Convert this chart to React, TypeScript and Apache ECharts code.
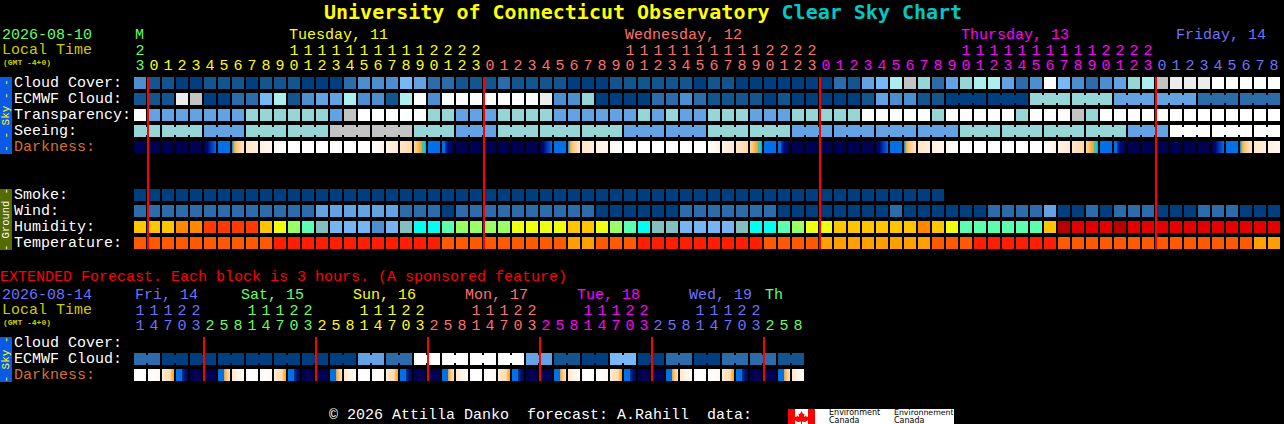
import React, { useEffect, useRef } from "react";
import * as echarts from "echarts";

// ---------- data ----------
const hourOnes = "3012345678901234567890123012345678901234567890123012345678901234567890123012345678".split("");
const hourTens = ["2", "", "", "", "", "", "", "", "", "", "", "1", "1", "1", "1", "1", "1", "1", "1", "1", "1", "2", "2", "2", "2",
  "", "", "", "", "", "", "", "", "", "", "1", "1", "1", "1", "1", "1", "1", "1", "1", "1", "2", "2", "2", "2",
  "", "", "", "", "", "", "", "", "", "", "1", "1", "1", "1", "1", "1", "1", "1", "1", "1", "2", "2", "2", "2",
  "", "", "", "", "", "", "", "", ""];
const rowLabels = ["Cloud Cover:", "ECMWF Cloud:", "Transparency:", "Seeing:", "Darkness:", "", "", "Smoke:", "Wind:", "Humidity:", "Temperature:"];
const extRowLabels = ["Cloud Cover:", "ECMWF Cloud:", "Darkness:"];

const cloudCover = [3, 1, 1, 0, 0, 1, 1, 1, 0, 1, 1, 1, 0, 0, 0, 2, 3, 3, 3, 5, 4, 2, 2, 1, 1, 1, 2, 1, 1, 1, 1, 0, 0, 0, 1, 1, 1, 1, 1, 1, 0, 1, 1, 0, 0, 0, 0, 0, 0, 0, 2, 1, 4, 5, 7, 8, 6, 2, 4, 6, 7, 7, 4, 2, 3, 10, 5, 3, 2, 3, 4, 6, 7, 8, 9, 9, 9, 10, 10, 10, 10, 10];
const ecmwfCloud = [1, 1, 1, 9, 8, 0, 0, 2, 2, 5, 7, 1, 3, 4, 4, 7, 3, 3, 1, 7, 10, 3, 10, 10, 10, 10, 10, 10, 10, 9, 3, 3, 6, 0, 0, 0, 0, 2, 2, 3, 2, 1, 1, 1, 1, 0, 1, 0, 0, 0, 0, 0, 1, 4, 3, 3, 1, 1, 0, 0, 0, 0, 0, 0, 6, 6, 6, 6, 6, 6, 4, 4, 4, 4, 4, 4, 2, 2, 2, 2, 2, 2];
const ecmwfBlocks = [58, 3, 3, 3, 3, 3, 3, 3, 3];
const transparency = [10, 4, 4, 4, 4, 4, 4, 4, 6, 6, 6, 6, 6, 6, 4, 8, 10, 10, 10, 10, 10, 6, 6, 4, 4, 4, 6, 6, 6, 6, 4, 4, 4, 4, 4, 4, 6, 4, 6, 4, 4, 6, 6, 6, 4, 4, 4, 6, 6, 6, 6, 6, 10, 10, 10, 10, 10, 6, 10, 10, 10, 10, 10, 6, 10, 10, 10, 8, 6, 10, 10, 10, 10, 10, 10, 10, 10, 10, 10, 10, 10, 10];
const seeing = [6, 6, 6, 6, 6, 4, 4, 4, 6, 6, 6, 6, 6, 6, 8, 8, 8, 8, 8, 8, 6, 6, 6, 4, 4, 4, 6, 6, 6, 6, 6, 6, 6, 6, 6, 4, 4, 4, 4, 4, 4, 6, 6, 6, 6, 6, 6, 4, 4, 4, 4, 4, 4, 4, 4, 4, 4, 4, 4, 6, 6, 6, 6, 6, 6, 6, 6, 6, 6, 6, 6, 4, 4, 4, 10, 10, 10, 10, 10, 10, 10, 10];
const seeingBlocks = [2, 3, 3, 3, 3, 3, 3, 3, 3, 3, 3, 3, 3, 3, 3, 3, 3, 3, 3, 3, 3, 3, 3, 3, 3, 3, 3, 2];
const darkness = "nnnnnabcdefwwwwwwghijbknnnnnnabcdefwwwwwwghijbknnnnnnabcdefwwwwwwghijbknnnnnnabcde".split("");
const smoke = Array.from("0000000000000000000000000000000000000000000000000000000000").map(Number);
const wind = [1, 1, 1, 1, 1, 1, 1, 1, 1, 1, 1, 1, 1, 2, 2, 2, 2, 2, 2, 1, 1, 1, 0, 1, 1, 1, 1, 1, 1, 1, 1, 1, 1, 0, 0, 0, 0, 0, 0, 1, 1, 1, 1, 1, 1, 1, 0, 0, 0, 0, 0, 0, 0, 0, 1, 0, 0, 0, 0, 0, 0, 1, 1, 1, 1, 2, 0, 0, 1, 0, 1, 1, 1, 0, 0, 0, 1, 1, 1, 0, 0, 0];
const humidity = "aaabbccccadefhiiijihggfeeeeddddaadefghhiiiihggfeddaaaaaabadffffffaLkkkLkkkkkkkkkkk".split("").slice(0, 82);
const temperature = [0, 0, 0, 0, 0, 0, 0, 0, 0, 0, 1, 1, 1, 1, 1, 1, 1, 1, 1, 1, 1, 1, 0, 0, 0, 0, 0, 0, 0, 0, 0, 2, 2, 0, 0, 0, 1, 1, 1, 1, 1, 1, 1, 1, 1, 0, 0, 0, 0, 2, 2, 2, 2, 2, 2, 2, 2, 0, 0, 0, 1, 1, 1, 1, 1, 1, 0, 0, 0, 0, 0, 0, 0, 0, 0, 0, 0, 0, 0, 0, 2, 2];
const midnights = [1, 25, 49, 73];

const extOnes = "147032581470325814703258147032581470325814703258".split("");
const extTens = ["1", "1", "1", "2", "2", "", "", "", "1", "1", "1", "2", "2", "", "", "", "1", "1", "1", "2", "2", "", "", "", "1", "1", "1", "2", "2", "", "", "", "1", "1", "1", "2", "2", "", "", "", "1", "1", "1", "2", "2", "", "", ""];
const extEcmwf = [2, 2, 0, 0, 0, 0, 0, 0, 0, 0, 0, 0, 0, 0, 0, 0, 4, 4, 2, 2, 10, 10, 10, 10, 10, 10, 10, 10, 4, 4, 1, 1, 0, 0, 5, 5, 0, 0, 2, 2, 0, 0, 2, 2, 2, 2, 1, 1];
const extBlocks = [2, 2, 2, 2, 2, 2, 2, 2, 2, 2, 2, 2, 2, 2, 2, 2, 2, 2, 2, 2, 2, 2, 2, 2];
const extDarkness = "wvpqnnstwvpqnnstwvpqnnstwvpqnnstwvpqnnstwvpqnnst".split("");
const extMidnights = [5, 13, 21, 29, 37, 45];

const mainDays = ["M", "Tuesday, 11", "Wednesday, 12", "Thursday, 13", "Friday, 14"];
const extDays = ["Fri, 14", "Sat, 15", "Sun, 16", "Mon, 17", "Tue, 18", "Wed, 19", "Th"];

// ---------- styles ----------
const GREEN = "#66ff66", YELLOW = "#ffff00", SALMON = "#ff7070", MAGENTA = "#ff00ff", BLUE = "#7070ff", OLIVE = "#cccc00";
const MONO = '"Liberation Mono", monospace';
const FS = 15;
const FONT = `${FS}px ${MONO}`;
const mainDayX = [135, 289, 625, 961, 1176];
const mainDayColors = [GREEN, YELLOW, SALMON, MAGENTA, BLUE];
const extDayX = [135, 241, 353, 465, 577, 689, 765];
const extDayColors = [BLUE, GREEN, YELLOW, SALMON, MAGENTA, BLUE, GREEN];

const cloudPalette = ["#003f7f", "#13568f", "#2c6cab", "#4c8ed0", "#63a3e4", "#77b8f8", "#96d6d6", "#abefef", "#c3c3c3", "#ececec", "#ffffff"];
const windPalette = ["#003f7f", "#2c6cab", "#63a3e4"];
const tempPalette = ["#ff5a00", "#ff1e00", "#ffa000"];
const humidityPalette: Record<string, string> = {
  a: "#ffc600", b: "#ff8800", c: "#ff3a00", d: "#eeff11", e: "#99ff66", f: "#5cffb0", g: "#00ffee",
  h: "#84bfbf", i: "#78b4f4", j: "#4c8ed0", k: "#e40000", L: "#b80000",
};
const NAVY = "#000052", DAYBLUE = "#0070e8";
const darknessStops: Record<string, [number, string][]> = {
  n: [[0, NAVY], [1, NAVY]],
  a: [[0, NAVY], [0.3, "#000a70"], [0.55, "#0030b0"], [0.8, "#0050d0"], [1, DAYBLUE]],
  b: [[0, DAYBLUE], [1, DAYBLUE]],
  c: [[0, "#00a0d8"], [0.1, "#00a0d8"], [0.14, "#ffa030"], [0.5, "#ffd090"], [1, "#ffe6c4"]],
  d: [[0, "#ffe6c4"], [1, "#fff0dc"]],
  e: [[0, "#fff0dc"], [1, "#fff8f0"]],
  f: [[0, "#fff8f0"], [1, "#ffffff"]],
  w: [[0, "#ffffff"], [1, "#ffffff"]],
  g: [[0, "#ffffff"], [1, "#fff4e6"]],
  h: [[0, "#fff4e6"], [1, "#ffe8cc"]],
  i: [[0, "#ffe8cc"], [1, "#ffd8a4"]],
  j: [[0, "#ffd8a4"], [0.62, "#ffa020"], [0.72, "#40c0a0"], [0.85, "#00e0e8"], [1, "#00a0e0"]],
  k: [[0, DAYBLUE], [0.2, DAYBLUE], [0.3, "#0030b0"], [0.55, "#000a70"], [1, NAVY]],
  v: [[0, "#ffffff"], [1, "#fff8f0"]],
  p: [[0, "#fff0dc"], [0.7, "#ffd8a0"], [0.85, "#ffb040"], [1, "#ffa020"]],
  q: [[0, DAYBLUE], [0.5, DAYBLUE], [0.55, "#002090"], [1, NAVY]],
  s: [[0, DAYBLUE], [0.5, DAYBLUE], [0.55, "#ffb040"], [1, "#ffe6c4"]],
  t: [[0, "#ffe8cc"], [1, "#ffffff"]],
};

const dayColor = (i: number) => (i === 0 ? GREEN : i < 25 ? YELLOW : i < 49 ? SALMON : i < 73 ? MAGENTA : BLUE);
const extDayColor = (i: number) => (i < 5 ? BLUE : i < 13 ? GREEN : i < 21 ? YELLOW : i < 29 ? SALMON : i < 37 ? MAGENTA : i < 45 ? BLUE : GREEN);
const rowColor = (labels: string[]) => (_v: unknown, i: number) => (labels[i] === "Darkness:" ? "#d8702c" : "#ffffff");

function blockEnds(blocks: number[]) {
  const ends = new Set<number>();
  let n = 0;
  blocks.forEach((b) => { n += b; ends.add(n - 1); });
  return ends;
}

function cellSeries(axis: number, row: number, values: any[], fill: (v: any) => any, blocks?: number[]) {
  const ends = blocks ? blockEnds(blocks) : null;
  const singleUntil = blocks === ecmwfBlocks ? 58 : 0;
  return {
    type: "custom",
    xAxisIndex: axis === 0 ? 0 : 2,
    yAxisIndex: axis,
    silent: true,
    data: values.map((v, i) => [i, row, i]),
    encode: { x: 0, y: 1 },
    renderItem: (_p: any, api: any) => {
      const i = api.value(0);
      const [cx, cy] = api.coord([i, row]);
      const [bw, bh] = api.size([1, 1]);
      const w = bw - 2, h = bh - 4;
      const f = fill(values[i]);
      const children: any[] = [{ type: "rect", shape: { x: cx - w / 2, y: cy - h / 2, width: w, height: h }, style: { fill: f } }];
      if (ends && i >= singleUntil && !ends.has(i) && i < values.length - 1) {
        children.push({ type: "rect", shape: { x: cx + w / 2, y: cy - h / 2 + 2, width: 2, height: h - 4 }, style: { fill: f } });
      }
      return { type: "group", children };
    },
  };
}

function lineSeries(axis: number, cols: number[], lastRow: number) {
  return {
    type: "custom",
    xAxisIndex: axis === 0 ? 0 : 2,
    yAxisIndex: axis,
    silent: true,
    z: 5,
    data: cols.map((c) => [c, 0]),
    encode: { x: 0, y: 1 },
    renderItem: (_p: any, api: any) => {
      const c = api.value(0);
      const [cx, y0] = api.coord([c, 0]);
      const [, y1] = api.coord([c, lastRow]);
      const [bw, bh] = api.size([1, 1]);
      return {
        type: "rect",
        shape: { x: cx - bw / 2, y: y0 - bh / 2 + 2, width: 2, height: y1 - y0 + bh - 4 },
        style: { fill: "#ff0000" },
      };
    },
  };
}

const gradient = (kind: string) =>
  new echarts.graphic.LinearGradient(0, 0, 1, 0, darknessStops[kind].map(([offset, color]) => ({ offset, color })));

function headerAxis(grid: number, data: string[], offset: number, color: (i: number) => string, margin: number) {
  return {
    type: "category",
    gridIndex: grid,
    position: "top",
    data,
    offset,
    axisLine: { show: false },
    axisTick: { show: false },
    splitLine: { show: false },
    axisLabel: {
      interval: 0,
      margin,
      fontFamily: MONO,
      fontSize: FS,
      color: (_v: unknown, i: number) => color(i),
    },
  };
}

function rowAxis(grid: number, labels: string[]) {
  return {
    type: "category",
    gridIndex: grid,
    inverse: true,
    data: labels,
    axisLine: { show: false },
    axisTick: { show: false },
    splitLine: { show: false },
    axisLabel: {
      interval: 0,
      align: "left",
      margin: 119,
      fontFamily: MONO,
      fontSize: FS,
      padding: [0, 0, 9, 0],
      color: rowColor(labels),
    },
  };
}

const txt = (text: string, x: number, y: number, fill: string, font = FONT, extra: any = {}) => ({
  type: "text",
  x,
  y,
  silent: true,
  style: { text, fill, font, textVerticalAlign: "middle", ...extra },
});

const box = (x: number, y: number, width: number, height: number, fill: string) => ({
  type: "rect",
  silent: true,
  shape: { x, y, width, height },
  style: { fill },
});

const side = (text: string, y: number, fill: string, font = `11px ${MONO}`) => ({
  type: "text",
  x: 6,
  y,
  rotation: Math.PI / 2,
  silent: true,
  style: { text, fill, font, textAlign: "center", textVerticalAlign: "middle" },
});

const leaf = [
  [801.5, 411], [803, 414], [804.5, 413.5], [804, 417], [806, 415.5], [806.5, 417], [808.5, 416.5], [808, 419],
  [808.5, 420], [805, 422], [802, 421.6], [802, 424], [801, 424], [801, 421.6], [798, 422], [794.5, 420], [795, 419], [794.5, 416.5],
  [796.5, 417], [797, 415.5], [799, 417], [798.5, 413.5], [800, 414],
];

const TITLE_FONT = '"DejaVu Sans Mono", monospace';
const option: any = {
  animation: false,
  backgroundColor: "#000000",
  title: {
    left: 324,
    top: 0,
    padding: 0,
    text: "{a|University of Connecticut Observatory }{b|Clear Sky Chart}",
    textStyle: {
      rich: {
        a: { color: "#ffff00", fontFamily: TITLE_FONT, fontWeight: "bold", fontSize: 20, lineHeight: 24 },
        b: { color: "#00c8c8", fontFamily: TITLE_FONT, fontWeight: "bold", fontSize: 20, lineHeight: 24 },
      },
    },
  },
  grid: [
    { left: 133, top: 75, width: 1148, height: 176 },
    { left: 133, top: 335, width: 672, height: 48 },
  ],
  xAxis: [
    headerAxis(0, hourOnes, 0, dayColor, 1),
    headerAxis(0, hourTens, 15, dayColor, 1),
    headerAxis(1, extOnes, 0, extDayColor, 1),
    headerAxis(1, extTens, 15, extDayColor, 1),
  ],
  yAxis: [rowAxis(0, rowLabels), rowAxis(1, extRowLabels)],
  series: [
    cellSeries(0, 0, cloudCover, (v) => cloudPalette[v]),
    cellSeries(0, 1, ecmwfCloud, (v) => cloudPalette[v], ecmwfBlocks),
    cellSeries(0, 2, transparency, (v) => cloudPalette[v]),
    cellSeries(0, 3, seeing, (v) => cloudPalette[v], seeingBlocks),
    cellSeries(0, 4, darkness, gradient),
    cellSeries(0, 7, smoke, () => cloudPalette[0]),
    cellSeries(0, 8, wind, (v) => windPalette[v]),
    cellSeries(0, 9, humidity, (v) => humidityPalette[v]),
    cellSeries(0, 10, temperature, (v) => tempPalette[v]),
    lineSeries(0, midnights, 10),
    cellSeries(1, 1, extEcmwf, (v) => cloudPalette[v], extBlocks),
    cellSeries(1, 2, extDarkness, gradient),
    lineSeries(1, extMidnights, 2),
  ],
  graphic: {
    elements: [
      txt("2026-08-10", 2, 35, GREEN),
      txt("Local Time", 2, 50, OLIVE),
      txt("(GMT -4+0)", 3, 62.5, OLIVE, `bold 8px ${MONO}`),
      ...mainDays.map((d, i) => txt(d, mainDayX[i], 35, mainDayColors[i])),
      box(0, 77, 12, 77, "#0a5ae6"),
      side("- - Sky - -", 115.5, "#ffff00"),
      box(0, 189, 12, 61, "#556b00"),
      side("- Ground -", 219.5, "#ffffff", `10.5px ${MONO}`),
      txt("EXTENDED Forecast. Each block is 3 hours. (A sponsored feature)", 0, 277, "#ff0000"),
      txt("2026-08-14", 2, 295, BLUE),
      txt("Local Time", 2, 310, OLIVE),
      txt("(GMT -4+0)", 3, 322.5, OLIVE, `bold 8px ${MONO}`),
      ...extDays.map((d, i) => txt(d, extDayX[i], 295, extDayColors[i])),
      box(0, 337, 12, 45, "#0a5ae6"),
      side("- Sky -", 359.5, "#ffff00"),
      txt("\u00a9 2026 Attilla Danko  forecast: A.Rahill  data:", 329, 415, "#ffffff"),
      box(788, 409, 166, 15, "#ffffff"),
      box(788, 409, 7, 15, "#ff0000"),
      box(808, 409, 7, 15, "#ff0000"),
      { type: "polygon", silent: true, shape: { points: leaf }, style: { fill: "#ff0000" } },
      txt("Environment", 829, 412.5, "#000000", '8px "DejaVu Sans"'),
      txt("Canada", 829, 420, "#000000", '8px "DejaVu Sans"'),
      txt("Environnement", 894, 412.5, "#000000", '7.8px "DejaVu Sans"'),
      txt("Canada", 894, 420, "#000000", '8px "DejaVu Sans"'),
    ],
  },
};

export default function App() {
  const ref = useRef<HTMLDivElement>(null);
  useEffect(() => {
    document.body.style.margin = "0";
    document.body.style.background = "#000";
    const chart = echarts.init(ref.current!, null, { renderer: "svg" });
    chart.setOption(option);
    return () => chart.dispose();
  }, []);
  return <div ref={ref} style={{ width: 1284, height: 424 }} />;
}
